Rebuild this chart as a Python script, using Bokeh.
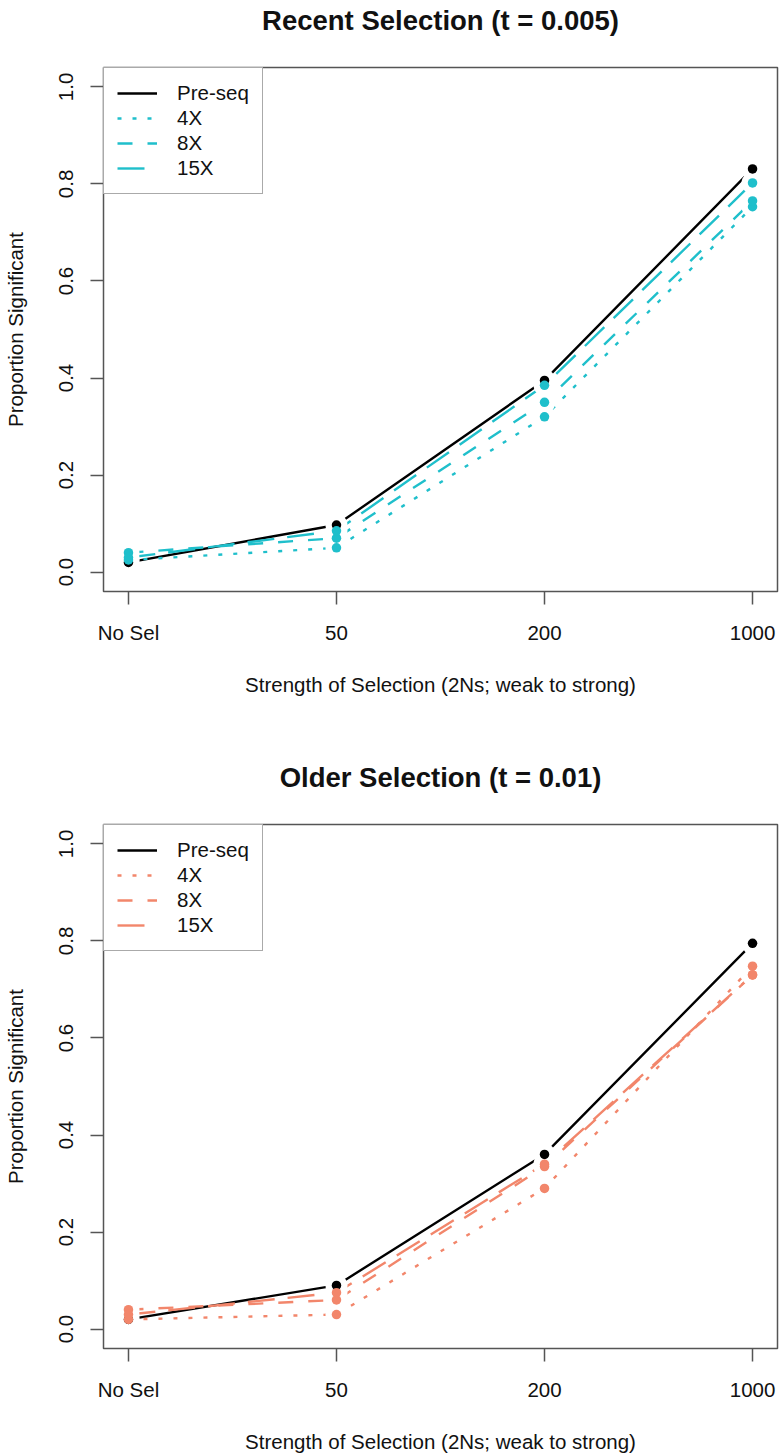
from bokeh.plotting import figure
from bokeh.models import FixedTicker, Legend, LegendItem, Range1d, NumeralTickFormatter, Title
from bokeh.layouts import column
from bokeh.embed import file_html
from bokeh.resources import INLINE

# ---- data ----
categories = ["No Sel", "50", "200", "1000"]
x_pos = [1, 2, 3, 4]
series_names = ["Pre-seq", "4X", "8X", "15X"]

recent_preseq = [0.020, 0.097, 0.395, 0.831]
recent_4x = [0.025, 0.050, 0.320, 0.753]
recent_8x = [0.040, 0.070, 0.350, 0.765]
recent_15x = [0.030, 0.085, 0.385, 0.802]

older_preseq = [0.020, 0.090, 0.360, 0.795]
older_4x = [0.020, 0.030, 0.290, 0.748]
older_8x = [0.040, 0.060, 0.335, 0.730]
older_15x = [0.030, 0.075, 0.340, 0.730]

y_ticks = [0.0, 0.2, 0.4, 0.6, 0.8, 1.0]

FONT = "Liberation Sans"
AX = "#555555"
TXT = "#111111"
dashes = ["solid", "4 11", "15 15", "27 13"]


def make_panel(title, series, color, top, bottom):
    xr = Range1d(0.88, 4.12)
    yr = Range1d(-0.04, 1.04)
    p = figure(frame_width=674, frame_height=524,
               min_border_left=103, min_border_right=7,
               min_border_top=top, min_border_bottom=bottom,
               x_range=xr, y_range=yr,
               toolbar_location=None, output_backend="svg",
               background_fill_color="white", border_fill_color="white")
    p.grid.visible = False
    p.outline_line_color = AX
    p.outline_line_width = 1.5

    # title: a thin spacer next to the box, the real title farther out
    p.title.text = ""
    p.title.standoff = 0
    p.add_layout(Title(text=" ", text_font_size="12px", standoff=16), "above")
    p.add_layout(Title(text=title, align="center", standoff=0,
                       text_font=FONT, text_font_size="27.5px",
                       text_font_style="bold", text_color=TXT), "above")

    for ax in (p.xaxis[0], p.yaxis[0]):
        ax.axis_line_color = None
        ax.major_tick_out = 13
        ax.major_tick_in = 0
        ax.major_tick_line_color = AX
        ax.major_tick_line_width = 1.5
        ax.minor_tick_line_color = None
        ax.major_label_text_font = FONT
        ax.major_label_text_font_size = "20.5px"
        ax.major_label_text_color = TXT
        ax.axis_label_text_font = FONT
        ax.axis_label_text_font_size = "20.5px"
        ax.axis_label_text_font_style = "normal"
        ax.axis_label_text_color = TXT

    p.xaxis.ticker = FixedTicker(ticks=x_pos)
    p.xaxis.major_label_overrides = {x: c for x, c in zip(x_pos, categories)}
    p.xaxis.major_label_standoff = 16
    p.xaxis.axis_label = "Strength of Selection (2Ns; weak to strong)"
    p.xaxis.axis_label_standoff = 26

    p.yaxis.ticker = FixedTicker(ticks=y_ticks)
    p.yaxis.formatter = NumeralTickFormatter(format="0.0")
    p.yaxis.major_label_orientation = "vertical"
    p.yaxis.major_label_standoff = 17
    p.yaxis.axis_label = "Proportion Significant"
    p.yaxis.axis_label_standoff = 30

    cols = ["black", color, color, color]
    lines = []
    for vals, c, d in zip(series, cols, dashes):
        r = p.line(x_pos, vals, line_color=c, line_width=2.4, line_dash=d)
        lines.append(r)
    for vals in series:
        p.scatter(x_pos, vals, size=22, fill_color="white", line_color=None)
    for vals, c in zip(series, cols):
        p.scatter(x_pos, vals, size=9.5, fill_color=c, line_color=None)

    legend = Legend(items=[LegendItem(label=n, renderers=[r]) for n, r in zip(series_names, lines)],
                    location="top_left", margin=0, padding=13, spacing=1,
                    label_height=24, glyph_height=24, glyph_width=40, label_standoff=20,
                    border_line_color=AX, border_line_width=1.5,
                    label_text_font=FONT, label_text_font_size="20.5px",
                    label_text_color=TXT, background_fill_alpha=1.0)
    p.add_layout(legend)
    return p


p1 = make_panel("Recent Selection (t = 0.005)",
                [recent_preseq, recent_4x, recent_8x, recent_15x], "#1FBFCB", 67, 166)
p2 = make_panel("Older Selection (t = 0.01)",
                [older_preseq, older_4x, older_8x, older_15x], "#F2866B", 67, 105)

layout = column(p1, p2, spacing=0)
open("out.html", "w").write(file_html(layout, INLINE))
